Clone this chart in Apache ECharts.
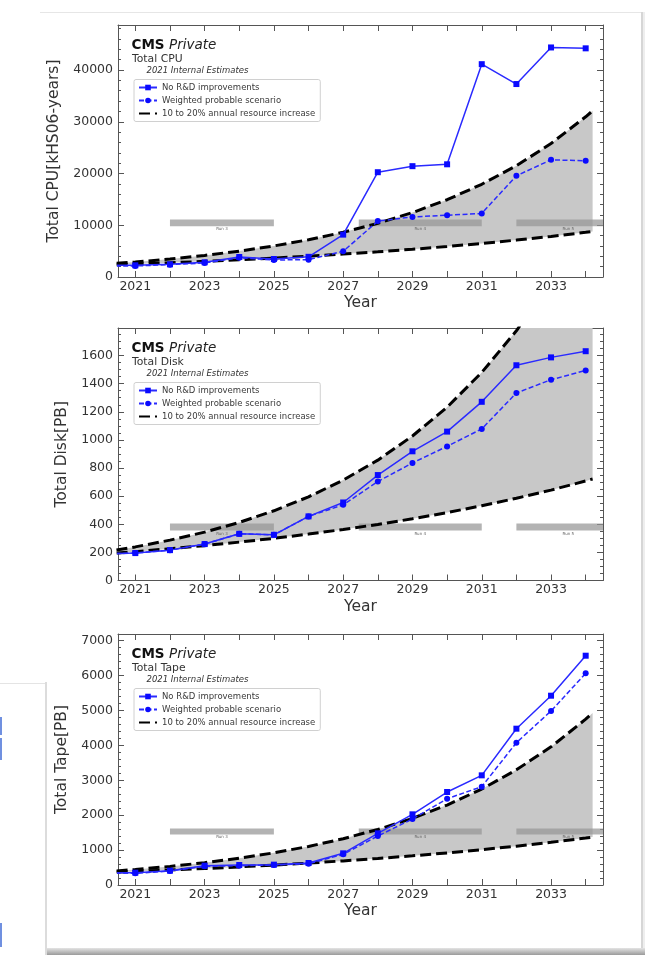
<!DOCTYPE html>
<html><head><meta charset="utf-8">
<script src="https://cdn.jsdelivr.net/npm/echarts@6/dist/echarts.min.js"></script>
<style>html,body{margin:0;padding:0;background:#fff}#c{width:649px;height:955px}</style>
</head><body><div id="c"></div>
<script>
// ---------------- data ----------------
const years = [2020, 2021, 2022, 2023, 2024, 2025, 2026, 2027, 2028, 2029, 2030, 2031, 2032, 2033, 2034];
const curveYears = [2020, 2021, 2022, 2023, 2024, 2025, 2026, 2027, 2028, 2029, 2030, 2031, 2032, 2033, 2034, 2034.2];
const labelYears = [2021, 2023, 2025, 2027, 2029, 2031, 2033];
const tickYears = [2021, 2022, 2023, 2024, 2025, 2026, 2027, 2028, 2029, 2030, 2031, 2032, 2033, 2034];

const seriesNames = ['No R&D improvements', 'Weighted probable scenario', '10 to 20% annual resource increase'];

// CPU [kHS06-years]
const cpuNoRD     = [2250, 2260, 2450, 2840, 3870, 3480, 3900, 8190, 20250, 21420, 21780, 41130, 37290, 44360, 44190];
const cpuWeighted = [2130, 2130, 2390, 2710, 3740, 3290, 3350, 4970, 10800, 11610, 11940, 12290, 19550, 22650, 22450];
const cpuUpper    = [2412, 2894, 3473, 4167, 5001, 6001, 7201, 8642, 10370, 12444, 14933, 17919, 21503, 25804, 30965, 32114];
const cpuLower    = [2273, 2500, 2750, 3025, 3328, 3660, 4026, 4429, 4872, 5359, 5895, 6484, 7133, 7846, 8631, 8797];

// Disk [PB]
const diskNoRD     = [188, 195, 216, 259, 332, 325, 456, 555, 750, 919, 1059, 1271, 1531, 1587, 1631];
const diskWeighted = [188, 195, 216, 259, 332, 325, 456, 538, 704, 836, 954, 1078, 1334, 1428, 1494];
const diskUpper    = [199, 239, 287, 344, 413, 496, 595, 714, 856, 1028, 1233, 1480, 1776, 2131, 2557, 2652];
const diskLower    = [186, 205, 226, 248, 273, 300, 330, 363, 399, 439, 483, 532, 585, 643, 708, 722];

// Tape [PB]
const tapeNoRD     = [350, 353, 411, 554, 573, 583, 630, 907, 1480, 2025, 2664, 3142, 4479, 5424, 6570];
const tapeWeighted = [335, 334, 401, 535, 554, 573, 611, 879, 1404, 1891, 2473, 2817, 4078, 4985, 6064];
const tapeUpper    = [370, 444, 533, 639, 767, 921, 1105, 1326, 1591, 1909, 2291, 2749, 3299, 3959, 4751, 4927];
const tapeLower    = [355, 390, 429, 472, 519, 571, 628, 691, 760, 836, 920, 1012, 1113, 1224, 1346, 1372];

// LHC run periods
const runNames = ['Run 3', 'Run 4', 'Run 5'];
const runStart = [2022.0, 2027.45, 2032.0];
const runEnd   = [2025.0, 2031.0, 2035.0];
const cpuRunBand  = [9800, 11100];
const diskRunBand = [355, 405];
const tapeRunBand = [1450, 1620];

// ---------------- layout / style ----------------
const FONT = 'DejaVu Sans';
const AX = '#555';
const BLUE_LINE = '#2a2aff';
const BLUE = '#0a0aff';

const panels = [
  {title: 'Total CPU', yName: 'Total CPU[kHS06-years]', yMax: 48700, yInterval: 10000, minor: 5,
   noRD: cpuNoRD, weighted: cpuWeighted, upper: cpuUpper, lower: cpuLower, band: cpuRunBand,
   top: 25, height: 252, nameGap: 46},
  {title: 'Total Disk', yName: 'Total Disk[PB]', yMax: 1796, yInterval: 200, minor: 4,
   noRD: diskNoRD, weighted: diskWeighted, upper: diskUpper, lower: diskLower, band: diskRunBand,
   top: 328, height: 252.5, nameGap: 37},
  {title: 'Total Tape', yName: 'Total Tape[PB]', yMax: 7192, yInterval: 1000, minor: 5,
   noRD: tapeNoRD, weighted: tapeWeighted, upper: tapeUpper, lower: tapeLower, band: tapeRunBand,
   top: 634, height: 251, nameGap: 38}
];

function fillRender(upper, lower) {
  return function (params, api) {
    const pts = [];
    for (let i = 0; i < curveYears.length; i++) pts.push(api.coord([curveYears[i], upper[i]]));
    for (let i = curveYears.length - 1; i >= 0; i--) pts.push(api.coord([curveYears[i], lower[i]]));
    return {type: 'polygon', shape: {points: pts}, style: {fill: '#c8c8c8'}};
  };
}
function runRender(band) {
  return function (params, api) {
    const x0 = api.value(0), x1 = api.value(1);
    const p0 = api.coord([x0, band[1]]);
    const p1 = api.coord([x1, band[0]]);
    const mid = api.coord([(x0 + x1) / 2, band[0]]);
    return {type: 'group', children: [
      {type: 'rect', shape: {x: p0[0], y: p0[1], width: p1[0] - p0[0], height: p1[1] - p0[1]},
       style: {fill: 'rgba(150,150,150,0.72)'}},
      {type: 'text', x: mid[0], y: mid[1] + 1,
       style: {text: runNames[params.dataIndex], font: '4px ' + FONT, fill: '#666', align: 'center', verticalAlign: 'top'}}
    ]};
  };
}

const grid = [], xAxis = [], yAxis = [], series = [], legend = [], graphic = [];

panels.forEach((p, k) => {
  grid.push({left: 118, top: p.top, width: 485, height: p.height});
  const xCommon = {gridIndex: k, type: 'value', min: 2020.5, max: 2034.5,
    axisLine: {show: true, onZero: false, lineStyle: {color: AX, width: 1}},
    axisTick: {show: true, inside: true, length: 6, customValues: tickYears, lineStyle: {color: AX}},
    splitLine: {show: false}};
  xAxis.push(Object.assign({}, xCommon, {position: 'bottom',
    axisLabel: {show: true, customValues: labelYears, formatter: v => String(v), fontSize: 12.5,
      color: '#333', margin: 3, fontFamily: FONT},
    name: 'Year', nameLocation: 'middle', nameGap: 18,
    nameTextStyle: {fontSize: 15.5, color: '#333', fontFamily: FONT}}));
  xAxis.push(Object.assign({}, xCommon, {position: 'top', axisLabel: {show: false}}));

  const yCommon = {gridIndex: k, type: 'value', min: 0, max: p.yMax, interval: p.yInterval,
    axisLine: {show: true, onZero: false, lineStyle: {color: AX, width: 1}},
    axisTick: {show: true, inside: true, length: 6, lineStyle: {color: AX}},
    minorTick: {show: true, splitNumber: p.minor, length: 3, lineStyle: {color: AX}},
    splitLine: {show: false}};
  yAxis.push(Object.assign({}, yCommon, {position: 'left',
    axisLabel: {show: true, formatter: v => (v % p.yInterval === 0 ? String(v) : ''), fontSize: 12.5,
      color: '#333', margin: 5, fontFamily: FONT},
    name: p.yName, nameLocation: 'middle', nameGap: p.nameGap,
    nameTextStyle: {fontSize: 15.5, color: '#333', fontFamily: FONT}}));
  yAxis.push(Object.assign({}, yCommon, {position: 'right', axisLabel: {show: false}}));

  const xi = 2 * k, yi = 2 * k;
  series.push({type: 'custom', xAxisIndex: xi, yAxisIndex: yi, renderItem: fillRender(p.upper, p.lower),
    data: [[2027, 0]], clip: true, z: 1, silent: true});
  series.push({type: 'custom', xAxisIndex: xi, yAxisIndex: yi, renderItem: runRender(p.band),
    data: runStart.map((s, i) => [s, runEnd[i]]), clip: true, z: 2, silent: true});
  [p.upper, p.lower].forEach(arr => {
    series.push({type: 'line', name: seriesNames[2], xAxisIndex: xi, yAxisIndex: yi,
      data: curveYears.map((x, i) => [x, arr[i]]), symbol: 'none', clip: true, z: 3,
      lineStyle: {color: '#000', width: 3, type: [11, 5]}, itemStyle: {color: '#000', opacity: 0}});
  });
  series.push({type: 'line', name: seriesNames[0], xAxisIndex: xi, yAxisIndex: yi,
    data: years.map((x, i) => [x, p.noRD[i]]), symbol: 'rect', symbolSize: 6, clip: true, z: 5,
    lineStyle: {color: BLUE_LINE, width: 1.5}, itemStyle: {color: BLUE}});
  series.push({type: 'line', name: seriesNames[1], xAxisIndex: xi, yAxisIndex: yi,
    data: years.map((x, i) => [x, p.weighted[i]]), symbol: 'circle', symbolSize: 6, clip: true, z: 5,
    lineStyle: {color: BLUE_LINE, width: 1.5, type: [5, 2.5]}, itemStyle: {color: BLUE}});

  legend.push({orient: 'vertical', left: 134, top: p.top + 54.5, selectedMode: false,
    data: [seriesNames[0], seriesNames[1], {name: seriesNames[2], itemStyle: {opacity: 0}}],
    itemWidth: 18, itemHeight: 7, itemGap: 3, padding: [3, 5, 3, 4],
    borderColor: '#d0d0d0', borderWidth: 1, borderRadius: 2, backgroundColor: 'rgba(255,255,255,0.85)',
    textStyle: {fontSize: 8.5, color: '#3a3a3a', fontFamily: FONT, lineHeight: 10}});

  graphic.push({type: 'text', x: 131.5, y: p.top + 20.5, z: 10,
    style: {text: 'CMS', font: 'bold 13.5px ' + FONT, fill: '#111', verticalAlign: 'middle'}});
  graphic.push({type: 'text', x: 169, y: p.top + 20.5, z: 10,
    style: {text: 'Private', font: 'italic 13.5px ' + FONT, fill: '#222', verticalAlign: 'middle'}});
  graphic.push({type: 'text', x: 132, y: p.top + 34.5, z: 10,
    style: {text: p.title, font: '10.8px ' + FONT, fill: '#333', verticalAlign: 'middle'}});
  graphic.push({type: 'text', x: 146.5, y: p.top + 45.6, z: 10,
    style: {text: '2021 Internal Estimates', font: 'italic 8.5px ' + FONT, fill: '#333', verticalAlign: 'middle'}});
});

// page decoration (screenshot card edges)
graphic.push(
  {type: 'rect', shape: {x: 40, y: 12, width: 604, height: 1}, style: {fill: '#e6e6e6'}, z: -5, silent: true},
  {type: 'rect', shape: {x: 641, y: 12, width: 2, height: 938}, style: {fill: '#d6d6d6'}, z: -5, silent: true},
  {type: 'rect', shape: {x: 643, y: 12, width: 2, height: 938}, style: {fill: '#eeeeee'}, z: -5, silent: true},
  {type: 'rect', shape: {x: 45, y: 948, width: 600, height: 7},
   style: {fill: new echarts.graphic.LinearGradient(0, 0, 0, 1, [{offset: 0, color: '#e4e4e4'}, {offset: 1, color: '#9a9a9a'}])}, z: -5, silent: true},
  {type: 'rect', shape: {x: 45, y: 682, width: 2, height: 273}, style: {fill: '#dcdcdc'}, z: -5, silent: true},
  {type: 'rect', shape: {x: 0, y: 683, width: 45, height: 1}, style: {fill: '#e4e4e4'}, z: -5, silent: true},
  {type: 'rect', shape: {x: 0, y: 717, width: 2, height: 18}, style: {fill: '#7090e0'}, z: -5, silent: true},
  {type: 'rect', shape: {x: 0, y: 738, width: 2, height: 22}, style: {fill: '#7090e0'}, z: -5, silent: true},
  {type: 'rect', shape: {x: 0, y: 923, width: 2, height: 24}, style: {fill: '#7090e0'}, z: -5, silent: true}
);

const chart = echarts.init(document.getElementById('c'), null, {renderer: 'canvas'});
chart.setOption({
  animation: false,
  backgroundColor: '#fff',
  textStyle: {fontFamily: FONT},
  grid, xAxis, yAxis, series, legend, graphic
});
</script></body></html>
